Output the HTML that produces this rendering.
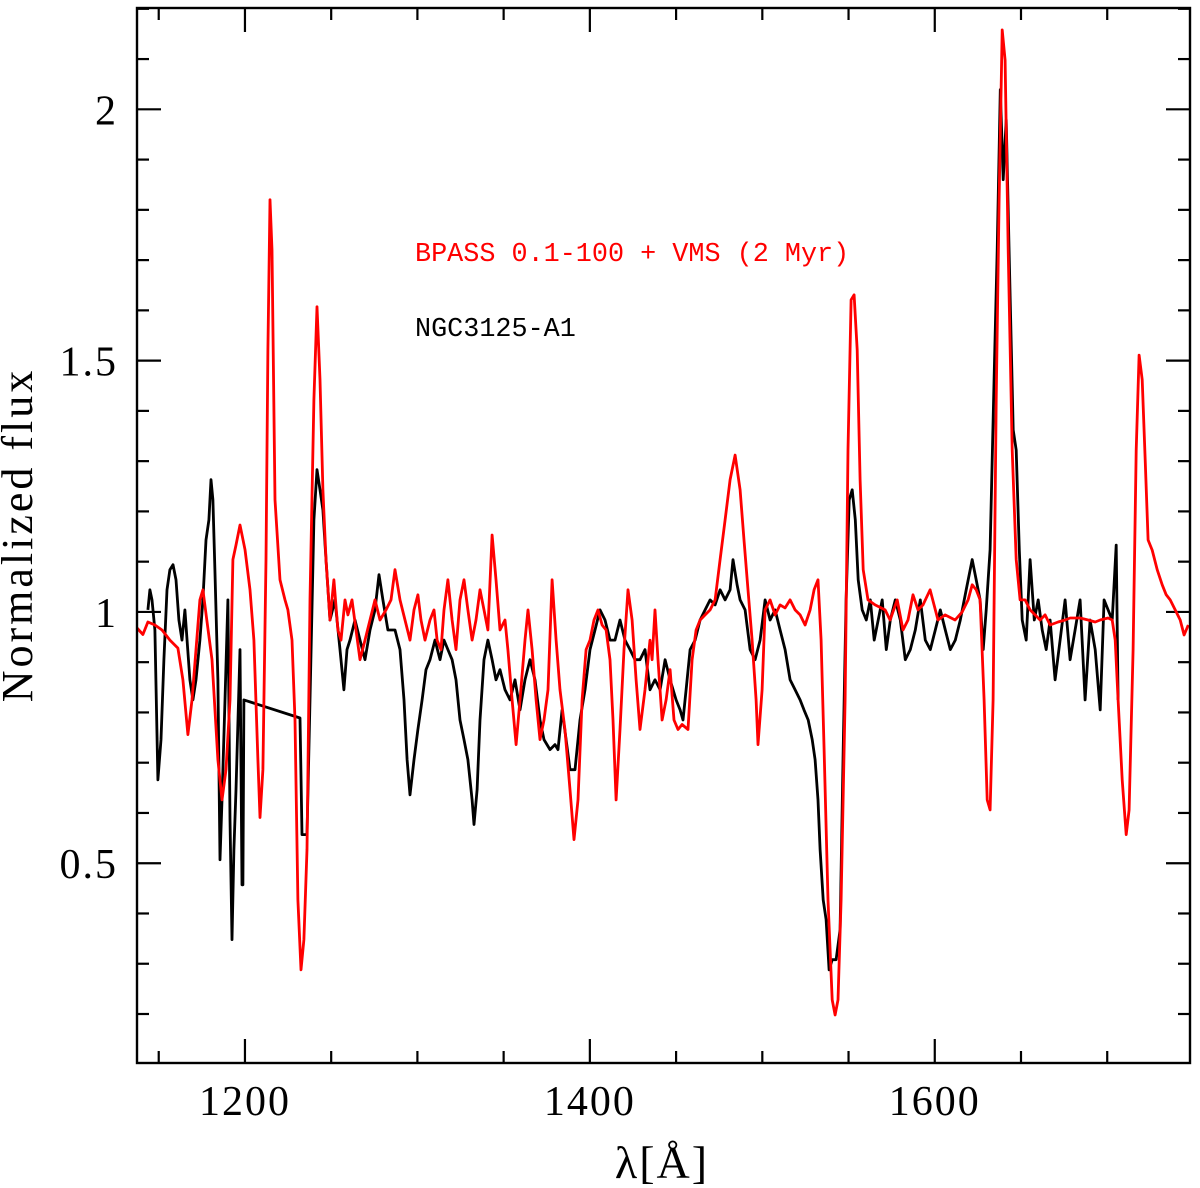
<!DOCTYPE html>
<html><head><meta charset="utf-8"><style>
html,body{margin:0;padding:0;background:#fff;}
svg{display:block;font-family:"Liberation Serif",serif;}
</style></head><body>
<svg id="chart" width="1200" height="1188" viewBox="0 0 1200 1188">
<g id="ticks"></g>
<g id="series"></g>
<rect x="137" y="8" width="1053" height="1055" fill="none" stroke="#000" stroke-width="2.4"/>
<g id="labels"></g>
<text x="22" y="535" transform="rotate(-90 22 535)" text-anchor="middle" dominant-baseline="middle" font-size="44" letter-spacing="3">Normalized flux</text>
<text x="662" y="1178" text-anchor="middle" font-size="46" letter-spacing="2">λ[Å]</text>
<text x="415" y="261" font-family="Liberation Mono, monospace" font-size="26.8" fill="#f00">BPASS 0.1-100 + VMS (2 Myr)</text>
<text x="415" y="336" font-family="Liberation Mono, monospace" font-size="26.8" fill="#000">NGC3125-A1</text>
</svg>
<script>
const xTickLabels=[1200,1400,1600];
const yTickLabels=[0.5,1,1.5,2];
const modelWave=[1137.4,1140.8,1143.7,1147.8,1151.9,1156.5,1161.1,1164.0,1166.9,1169.3,1171.6,1173.9,1175.6,1177.9,1180.9,1184.3,1186.7,1189.0,1191.3,1193.0,1194.8,1197.1,1200,1202.9,1205.2,1207.5,1208.7,1210.4,1212.2,1213.3,1214.5,1215.7,1217.4,1220.3,1223.2,1224.9,1227.3,1229.0,1230.7,1232.5,1234.2,1236.0,1237.7,1240.0,1241.8,1243.5,1245.2,1247.0,1249.3,1251.6,1253.9,1255.7,1258.0,1259.7,1262.1,1264.4,1266.7,1269.6,1272.5,1275.4,1278.3,1281.8,1284.7,1287.0,1289.9,1292.8,1295.7,1298.0,1300.3,1302.1,1304.4,1307.3,1309.6,1311.4,1313.7,1315.4,1317.7,1320.1,1322.4,1324.7,1327.0,1329.3,1331.7,1334.0,1336.3,1338.6,1340.9,1343.3,1345.6,1347.9,1350.8,1352.5,1354.9,1357.2,1359.5,1362.4,1364.1,1366.5,1368.8,1371.1,1373.4,1375.7,1378.1,1380.4,1382.7,1385.6,1388.5,1390.8,1393.1,1395.5,1397.8,1400.1,1402.4,1404.7,1407.1,1409.4,1411.7,1413.4,1415.2,1417.5,1419.8,1422.1,1424.5,1426.8,1429.1,1432.0,1434.9,1436.1,1437.8,1439.5,1441.9,1444.2,1446.5,1448.8,1451.1,1453.5,1456.9,1459.3,1461.6,1463.9,1466.8,1469.7,1472.6,1475.5,1478.4,1481.3,1484.2,1487.1,1489.4,1491.7,1494.1,1496.4,1497.5,1499.9,1501.6,1504.5,1507.4,1510.3,1513.2,1516.1,1519.0,1521.9,1524.8,1527.7,1530.0,1532.3,1534.1,1535.8,1538.1,1540.5,1542.2,1543.9,1545.7,1548.0,1549.7,1551.5,1553.2,1555.0,1556.7,1558.5,1561.3,1565.4,1571.2,1574.1,1578.2,1581.6,1584.5,1587.4,1590.3,1593.2,1597.3,1601.9,1606.0,1611.8,1615.9,1619.3,1621.7,1624.0,1626.3,1628.6,1630.4,1632.1,1633.8,1635.6,1637.3,1639.1,1640.8,1642.6,1644.9,1647.2,1649.5,1652.4,1655.3,1658.2,1661.1,1664.0,1666.9,1671.5,1675.6,1678.5,1684.3,1688.9,1693.0,1695.9,1700.5,1702.9,1704.6,1706.3,1708.7,1711.0,1712.7,1715.0,1716.8,1718.5,1720.3,1722.0,1723.7,1726.1,1729.0,1731.9,1734.2,1736.5,1739.4,1742.3,1744.6,1747.0];
const modelFlux=[0.968,0.955,0.980,0.974,0.964,0.944,0.928,0.865,0.756,0.825,0.925,1.024,1.044,0.984,0.905,0.706,0.626,0.686,0.825,1.104,1.133,1.173,1.124,1.044,0.944,0.706,0.591,0.686,1.104,1.521,1.820,1.720,1.223,1.064,1.024,1.004,0.944,0.785,0.427,0.288,0.348,0.527,1.024,1.422,1.607,1.462,1.243,1.104,0.984,1.064,0.964,0.944,1.024,0.994,1.024,0.964,0.905,0.944,0.984,1.024,0.984,1.004,1.024,1.084,1.024,0.984,0.944,1.004,1.034,0.984,0.944,0.984,1.004,0.944,0.925,1.004,1.064,0.984,0.925,1.024,1.064,1.004,0.944,0.984,1.044,1.004,0.964,1.153,1.064,0.964,0.984,0.925,0.825,0.736,0.825,0.944,1.004,0.925,0.825,0.746,0.785,0.845,1.064,0.944,0.845,0.765,0.646,0.547,0.626,0.825,0.925,0.944,0.984,1.004,0.974,0.964,0.905,0.785,0.626,0.766,0.925,1.044,0.984,0.865,0.766,0.845,0.944,0.905,1.004,0.905,0.785,0.825,0.885,0.785,0.766,0.776,0.766,0.905,0.964,0.984,0.994,1.004,1.024,1.104,1.183,1.263,1.312,1.243,1.143,1.044,0.944,0.825,0.736,0.845,1.004,1.024,0.994,1.014,1.008,1.024,1.004,0.994,0.974,1.004,1.044,1.064,0.944,0.726,0.427,0.228,0.198,0.228,0.427,0.825,1.322,1.621,1.631,1.521,1.263,1.084,1.024,1.014,1.004,0.984,1.024,0.964,0.984,1.034,1.004,1.014,1.044,0.984,0.994,0.984,1.000,1.024,1.054,1.044,1.024,0.825,0.626,0.606,0.825,1.422,1.820,2.158,2.098,1.720,1.322,1.104,1.024,1.024,1.004,0.994,0.984,0.994,0.974,0.980,0.984,0.988,0.988,0.984,0.980,0.984,0.988,0.984,0.944,0.825,0.666,0.557,0.606,0.925,1.322,1.511,1.462,1.302,1.143,1.123,1.084,1.054,1.034,1.024,1.004,0.984,0.954,0.974];
const obsWave=[1143.7,1144.9,1146.1,1147.8,1149.5,1151.3,1153.0,1154.8,1156.5,1158.3,1160.0,1161.7,1163.5,1165.2,1168.1,1169.8,1171.6,1173.9,1175.6,1177.4,1179.1,1180.3,1181.4,1182.6,1184.3,1185.5,1186.7,1188.4,1190.1,1191.3,1192.5,1193.6,1194.8,1197.1,1198.3,1198.8,1199.4,1231.9,1233.1,1236.0,1237.7,1240.0,1241.8,1243.5,1245.2,1247.0,1249.3,1252.2,1255.1,1257.4,1259.2,1260.9,1263.8,1266.7,1269.6,1272.5,1275.4,1277.7,1280.0,1282.9,1287.0,1289.9,1292.2,1294.0,1295.7,1298.0,1300.3,1302.7,1305.0,1307.3,1310.2,1313.1,1315.4,1317.7,1320.1,1322.4,1324.7,1327.0,1329.3,1331.7,1332.8,1334.6,1336.3,1338.6,1340.9,1343.3,1345.6,1347.9,1350.8,1353.7,1356.6,1359.5,1362.4,1365.3,1368.2,1371.1,1373.4,1376.9,1379.8,1381.5,1383.9,1386.2,1388.5,1391.4,1394.3,1397.2,1400.1,1403.0,1405.9,1408.8,1411.7,1414.6,1417.5,1420.4,1423.3,1426.2,1429.1,1432.0,1434.9,1437.8,1440.7,1443.6,1446.5,1450.0,1452.3,1454.0,1455.8,1458.1,1461.0,1463.9,1466.8,1469.7,1472.6,1475.5,1478.4,1481.3,1483.0,1485.4,1487.1,1490.0,1492.9,1495.8,1498.7,1501.6,1504.5,1507.4,1510.3,1513.2,1516.1,1519.0,1521.9,1524.2,1526.6,1528.9,1530.6,1532.3,1533.5,1535.3,1537.0,1538.7,1540.5,1542.8,1545.1,1546.9,1548.6,1550.4,1552.1,1553.9,1555.6,1557.9,1560.3,1562.6,1564.9,1567.2,1569.5,1571.9,1574.2,1577.1,1580.0,1582.9,1585.8,1588.7,1591.6,1594.5,1597.4,1600.3,1603.2,1606.1,1609.0,1611.9,1614.8,1618.2,1621.7,1624.0,1626.3,1628.1,1629.8,1632.1,1634.5,1636.2,1638.0,1639.7,1641.4,1643.2,1645.5,1647.2,1649.0,1650.7,1653.0,1655.3,1657.7,1660.0,1662.3,1664.6,1666.9,1669.8,1672.7,1675.6,1678.5,1681.4,1684.3,1687.2,1690.1,1693.0,1695.9,1698.2,1700.5,1702.9,1705.2,1706.3];
const obsFlux=[1.004,1.044,1.024,0.964,0.666,0.746,0.905,1.044,1.084,1.094,1.064,0.984,0.944,1.004,0.865,0.825,0.865,0.944,1.024,1.143,1.183,1.263,1.223,1.084,0.865,0.507,0.626,0.825,1.024,0.587,0.348,0.527,0.646,0.925,0.457,0.457,0.825,0.789,0.557,0.557,0.825,1.183,1.283,1.243,1.203,1.104,0.984,1.024,0.925,0.845,0.925,0.944,0.984,0.944,0.905,0.964,1.004,1.074,1.024,0.964,0.964,0.925,0.825,0.706,0.636,0.706,0.766,0.825,0.885,0.905,0.944,0.905,0.944,0.925,0.905,0.865,0.785,0.746,0.706,0.626,0.577,0.646,0.785,0.905,0.944,0.905,0.865,0.885,0.845,0.825,0.865,0.805,0.865,0.905,0.865,0.785,0.746,0.726,0.736,0.726,0.805,0.746,0.686,0.686,0.785,0.845,0.925,0.964,1.004,0.984,0.944,0.944,0.984,0.944,0.925,0.905,0.905,0.925,0.845,0.865,0.845,0.905,0.865,0.825,0.805,0.785,0.845,0.925,0.944,0.984,1.004,1.024,1.014,1.044,1.024,1.044,1.104,1.054,1.024,1.004,0.925,0.905,0.944,1.024,0.984,1.004,0.964,0.925,0.865,0.845,0.825,0.805,0.785,0.746,0.706,0.626,0.527,0.427,0.388,0.288,0.308,0.308,0.368,0.726,1.024,1.223,1.243,1.183,1.064,1.004,0.984,1.024,0.944,0.984,1.024,0.925,0.984,1.024,0.984,0.905,0.925,0.964,1.024,0.944,0.925,0.964,1.004,0.964,0.925,0.944,0.984,1.044,1.104,1.064,1.024,0.925,1.004,1.124,1.481,1.720,2.039,1.860,1.979,1.700,1.362,1.322,1.123,0.984,0.944,1.104,0.984,1.024,0.964,0.925,0.984,0.865,0.944,1.024,0.905,0.964,1.024,0.825,0.984,0.925,0.805,1.024,1.004,0.984,1.133,0.825];

const X0=137,X1=1190,Y0=8,Y1=1063,XMIN=1137.4,XMAX=1748,YMIN=0.1025,YMAX=2.2016;
function xs(v){return X0+(v-XMIN)/(XMAX-XMIN)*(X1-X0);}
function ys(v){return Y1-(v-YMIN)/(YMAX-YMIN)*(Y1-Y0);}
const NS='http://www.w3.org/2000/svg';
const tg=document.getElementById('ticks'),lg=document.getElementById('labels'),sg=document.getElementById('series');
function line(x1,y1,x2,y2,name){const l=document.createElementNS(NS,'line');l.setAttribute('x1',x1);l.setAttribute('y1',y1);l.setAttribute('x2',x2);l.setAttribute('y2',y2);l.setAttribute('stroke','#000');l.setAttribute('stroke-width','2.2');


tg.appendChild(l);}
for(let w=1150;w<=1745;w+=50){const x=xs(w);const major=(w%200===0);const L=major?24:12;line(x,Y1,x,Y1-L,'x-tick');line(x,Y0,x,Y0+L,'x-tick-top');}
for(let k=2;k<=22;k++){const v=k/10;const y=ys(v);const major=(k%5===0);const L=major?24:12;line(X0,y,X0+L,y,'y-tick');line(X1,y,X1-L,y,'y-tick-right');}
xTickLabels.forEach(v=>{const t=document.createElementNS(NS,'text');t.setAttribute('x',xs(v));t.setAttribute('y',1115);t.setAttribute('text-anchor','middle');t.setAttribute('font-size','42');t.setAttribute('letter-spacing','2');t.textContent=v;


lg.appendChild(t);});
yTickLabels.forEach(v=>{const t=document.createElementNS(NS,'text');t.setAttribute('x',118);t.setAttribute('y',ys(v)+15);t.setAttribute('text-anchor','end');t.setAttribute('font-size','42');t.setAttribute('letter-spacing','2');t.textContent=v;


lg.appendChild(t);});
function path(wv,fv,color,name){let d='';for(let i=0;i<wv.length;i++){d+=(i?'L':'M')+xs(wv[i]).toFixed(1)+','+ys(fv[i]).toFixed(1);}
const p=document.createElementNS(NS,'path');p.setAttribute('d',d);p.setAttribute('fill','none');p.setAttribute('stroke',color);p.setAttribute('stroke-width','2.8');p.setAttribute('stroke-linejoin','round');


sg.appendChild(p);}
path(obsWave,obsFlux,'#000','observed-spectrum-line');
path(modelWave,modelFlux,'#f00','model-spectrum-line');
</script>
</body></html>
